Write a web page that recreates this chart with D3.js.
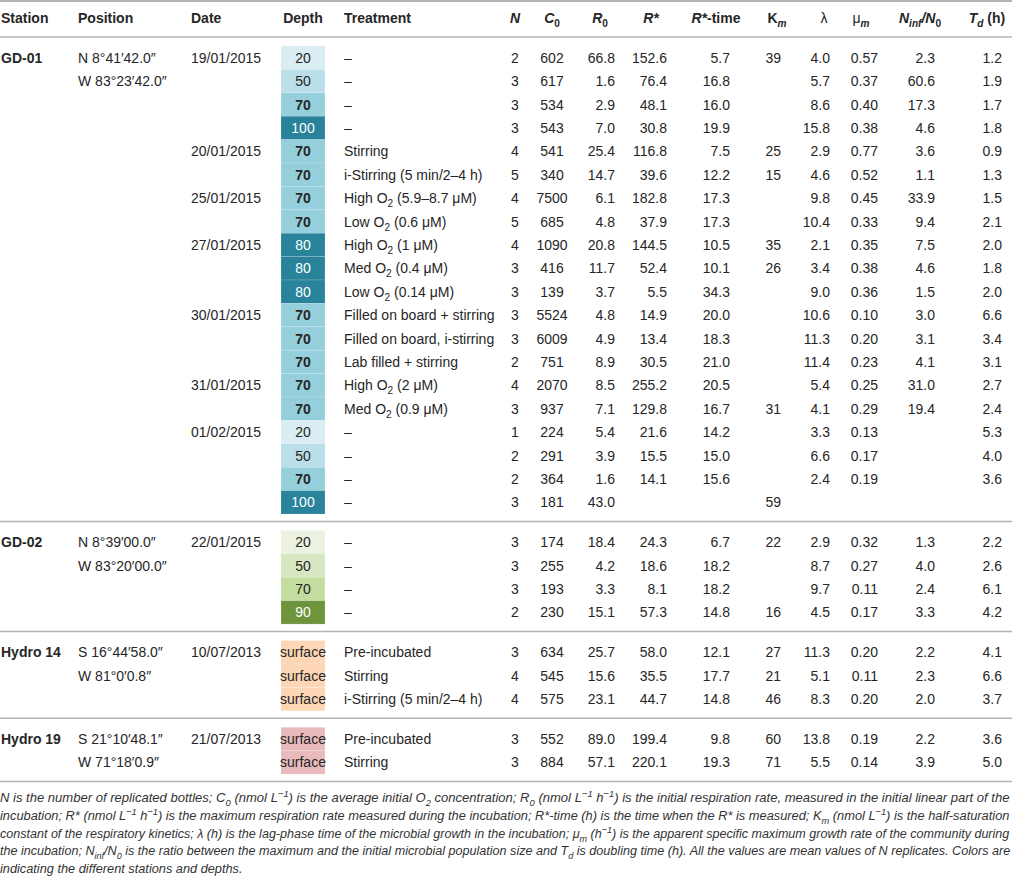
<!DOCTYPE html>
<html>
<head>
<meta charset="utf-8">
<script src="https://cdn.jsdelivr.net/npm/d3@7"></script>
<style>
  body { margin: 0; background: #fff; }
  svg { display: block; font-family: "Liberation Sans", Arial, sans-serif; }
</style>
</head>
<body>
<svg id="chart" width="1012" height="877"></svg>
<script>
// ---- data ----
const stations = ["GD-01", "GD-02", "Hydro 14", "Hydro 19"];
const stationRows = [20, 4, 3, 2];
const positions = [
  ["N 8°41′42.0″", "W 83°23′42.0″"],
  ["N 8°39′00.0″", "W 83°20′00.0″"],
  ["S 16°44′58.0″", "W 81°0′0.8″"],
  ["S 21°10′48.1″", "W 71°18′0.9″"]
];
const dates = [
  "19/01/2015", "", "", "", "20/01/2015", "", "25/01/2015", "", "27/01/2015", "", "",
  "30/01/2015", "", "", "31/01/2015", "", "01/02/2015", "", "", "",
  "22/01/2015", "", "", "",
  "10/07/2013", "", "",
  "21/07/2013", ""
];
const depths = [
  "20", "50", "70", "100", "70", "70", "70", "70", "80", "80", "80",
  "70", "70", "70", "70", "70", "20", "50", "70", "100",
  "20", "50", "70", "90",
  "surface", "surface", "surface",
  "surface", "surface"
];
const treatments = [
  "–", "–", "–", "–", "Stirring", "i-Stirring (5 min/2–4 h)",
  "High O2 (5.9–8.7 μM)", "Low O2 (0.6 μM)", "High O2 (1 μM)", "Med O2 (0.4 μM)",
  "Low O2 (0.14 μM)", "Filled on board + stirring", "Filled on board, i-stirring",
  "Lab filled + stirring", "High O2 (2 μM)", "Med O2 (0.9 μM)", "–", "–", "–", "–",
  "–", "–", "–", "–",
  "Pre-incubated", "Stirring", "i-Stirring (5 min/2–4 h)",
  "Pre-incubated", "Stirring"
];
const nRep = [2, 3, 3, 3, 4, 5, 4, 5, 4, 3, 3, 3, 3, 2, 4, 3, 1, 2, 2, 3, 3, 3, 3, 2, 3, 4, 4, 3, 3];
const c0 = [602, 617, 534, 543, 541, 340, 7500, 685, 1090, 416, 139, 5524, 6009, 751, 2070, 937,
  224, 291, 364, 181, 174, 255, 193, 230, 634, 545, 575, 552, 884];
const r0 = [66.8, 1.6, 2.9, 7.0, 25.4, 14.7, 6.1, 4.8, 20.8, 11.7, 3.7, 4.8, 4.9, 8.9, 8.5, 7.1,
  5.4, 3.9, 1.6, 43.0, 18.4, 4.2, 3.3, 15.1, 25.7, 15.6, 23.1, 89.0, 57.1];
const rStar = [152.6, 76.4, 48.1, 30.8, 116.8, 39.6, 182.8, 37.9, 144.5, 52.4, 5.5, 14.9, 13.4,
  30.5, 255.2, 129.8, 21.6, 15.5, 14.1, null, 24.3, 18.6, 8.1, 57.3, 58.0, 35.5, 44.7, 199.4, 220.1];
const rStarTime = [5.7, 16.8, 16.0, 19.9, 7.5, 12.2, 17.3, 17.3, 10.5, 10.1, 34.3, 20.0, 18.3,
  21.0, 20.5, 16.7, 14.2, 15.0, 15.6, null, 6.7, 18.2, 18.2, 14.8, 12.1, 17.7, 14.8, 9.8, 19.3];
const km = [39, null, null, null, 25, 15, null, null, 35, 26, null, null, null, null, null, 31,
  null, null, null, 59, 22, null, null, 16, 27, 21, 46, 60, 71];
const lambda = [4.0, 5.7, 8.6, 15.8, 2.9, 4.6, 9.8, 10.4, 2.1, 3.4, 9.0, 10.6, 11.3, 11.4, 5.4,
  4.1, 3.3, 6.6, 2.4, null, 2.9, 8.7, 9.7, 4.5, 11.3, 5.1, 8.3, 13.8, 5.5];
const muM = [0.57, 0.37, 0.40, 0.38, 0.77, 0.52, 0.45, 0.33, 0.35, 0.38, 0.36, 0.10, 0.20, 0.23,
  0.25, 0.29, 0.13, 0.17, 0.19, null, 0.32, 0.27, 0.11, 0.17, 0.20, 0.11, 0.20, 0.19, 0.14];
const nInfN0 = [2.3, 60.6, 17.3, 4.6, 3.6, 1.1, 33.9, 9.4, 7.5, 4.6, 1.5, 3.0, 3.1, 4.1, 31.0,
  19.4, null, null, null, null, 1.3, 4.0, 2.4, 3.3, 2.2, 2.3, 2.0, 2.2, 3.9];
const tD = [1.2, 1.9, 1.7, 1.8, 0.9, 1.3, 1.5, 2.1, 2.0, 1.8, 2.0, 6.6, 3.4, 3.1, 2.7, 2.4, 5.3,
  4.0, 3.6, null, 2.2, 2.6, 6.1, 4.2, 4.1, 6.6, 3.7, 3.6, 5.0];

const footnote = [
  [["N is the number of replicated bottles; C"], ["0", "sub"], [" (nmol L"], ["−1", "sup"],
   [") is the average initial O"], ["2", "sub"], [" concentration; R"], ["0", "sub"], [" (nmol L"],
   ["−1", "sup"], [" h"], ["−1", "sup"], [") is the initial respiration rate, measured in the initial linear part of the"]],
  [["incubation; R* (nmol L"], ["−1", "sup"], [" h"], ["−1", "sup"],
   [") is the maximum respiration rate measured during the incubation; R*-time (h) is the time when the R* is measured; K"],
   ["m", "sub"], [" (nmol L"], ["−1", "sup"], [") is the half-saturation"]],
  [["constant of the respiratory kinetics; λ (h) is the lag-phase time of the microbial growth in the incubation; μ"],
   ["m", "sub"], [" (h"], ["−1", "sup"], [") is the apparent specific maximum growth rate of the community during"]],
  [["the incubation; N"], ["inf", "sub"], ["/N"], ["0", "sub"],
   [" is the ratio between the maximum and the initial microbial population size and T"], ["d", "sub"],
   [" is doubling time (h). All the values are mean values of N replicates. Colors are"]],
  [["indicating the different stations and depths."]]
];

// ---- layout ----
const W = 1012;
const ROW_H = 23.4;
const PAD_TOP = 9;
const PAD_BOTTOM = 7.5;
const HEADER_LINE = 37;
const TEXT_COLOR = "#262626";
const RULE_COLOR = "#b4b4b4";

const depthColor = d3.scaleOrdinal()
  .domain(["GD-01|20", "GD-01|50", "GD-01|70", "GD-01|80", "GD-01|100",
           "GD-02|20", "GD-02|50", "GD-02|70", "GD-02|90",
           "Hydro 14|surface", "Hydro 19|surface"])
  .range(["#d9edf3", "#badfe8", "#96cfdc", "#29839a", "#29839a",
          "#ebf2df", "#d7e7c2", "#c3dc9f", "#6f953c",
          "#fdd6b6", "#e8babc"]);

// numeric columns: header segments, value x, anchor, header centre, format
const numCols = [
  { vals: nRep, x: 515, anchor: "middle", hx: 515, fmt: d3.format("d"), head: [["N", "i"]] },
  { vals: c0, x: 552, anchor: "middle", hx: 552, fmt: d3.format("d"), head: [["C", "i"], ["0", "sub"]] },
  { vals: r0, x: 615, anchor: "end", hx: 600, fmt: d3.format(".1f"), head: [["R", "i"], ["0", "sub"]] },
  { vals: rStar, x: 667, anchor: "end", hx: 651, fmt: d3.format(".1f"), head: [["R*", "i"]] },
  { vals: rStarTime, x: 730, anchor: "end", hx: 716, fmt: d3.format(".1f"), head: [["R*", "i"], ["-time"]] },
  { vals: km, x: 781, anchor: "end", hx: 777, fmt: d3.format("d"), head: [["K"], ["m", "subi"]] },
  { vals: lambda, x: 830, anchor: "end", hx: 824, fmt: d3.format(".1f"), head: [["λ", "n"]] },
  { vals: muM, x: 878, anchor: "end", hx: 861, fmt: d3.format(".2f"), head: [["μ", "n"], ["m", "subi"]] },
  { vals: nInfN0, x: 935, anchor: "end", hx: 920, fmt: d3.format(".1f"),
    head: [["N", "i"], ["inf", "subi"], ["/N", "i"], ["0", "sub"]] },
  { vals: tD, x: 1002, anchor: "end", hx: 987, fmt: d3.format(".1f"), head: [["T", "i"], ["d", "subi"], [" (h)"]] }
];

const textCols = [
  { head: "Station", x: 1 },
  { head: "Position", x: 78 },
  { head: "Date", x: 191 },
  { head: "Depth", x: 303, anchor: "middle" },
  { head: "Treatment", x: 344 }
];
const DEPTH_X = 281, DEPTH_W = 44;

// write styled segments into a text element
function rich(text, segs) {
  let shift = 0;
  segs.forEach(([t, style]) => {
    style = style || "";
    const target = style.startsWith("sub") ? 4 : style === "sup" ? -5 : 0;
    const ts = text.append("tspan").text(t).attr("dy", target - shift);
    shift = target;
    if (target !== 0) ts.attr("font-size", "0.72em");
    if (style === "i" || style === "subi") ts.attr("font-style", "italic");
    if (style === "n") ts.attr("font-weight", "normal");
  });
}

function treatmentSegs(t) {
  const parts = t.split("O2");
  const segs = [];
  parts.forEach((p, i) => {
    if (i > 0) { segs.push(["O"]); segs.push(["2", "sub"]); }
    if (p) segs.push([p]);
  });
  return segs;
}

const svg = d3.select("#chart");

// rows positions per station group
const rowY = d3.scaleLinear().domain([0, 1]).range([0, ROW_H]);
const groups = [];
let sepY = HEADER_LINE, rowIndex = 0;
stations.forEach((s, g) => {
  const top = sepY + PAD_TOP;
  groups.push({ station: s, top: top, first: rowIndex, n: stationRows[g] });
  rowIndex += stationRows[g];
  sepY = top + rowY(stationRows[g]) + PAD_BOTTOM;
  groups[g].bottomLine = sepY;
});

const rows = [];
groups.forEach((g, gi) => {
  for (let k = 0; k < g.n; k++) {
    rows.push({ i: g.first + k, g: gi, station: g.station, top: g.top + rowY(k) });
  }
});

// rules
const rules = [{ y: 1, w: 2 }, { y: HEADER_LINE, w: 1.5 }]
  .concat(groups.map(g => ({ y: g.bottomLine, w: 1.5 })));
svg.selectAll("line.rule").data(rules).join("line")
  .attr("class", "rule")
  .attr("x1", 0).attr("x2", W)
  .attr("y1", d => d.y).attr("y2", d => d.y)
  .attr("stroke", RULE_COLOR).attr("stroke-width", d => d.w);

// header
const head = svg.append("g").attr("font-size", 14).attr("font-weight", "bold").attr("fill", TEXT_COLOR);
textCols.forEach(c => {
  head.append("text").attr("x", c.x).attr("y", 23).attr("text-anchor", c.anchor || "start").text(c.head);
});
numCols.forEach(c => {
  const t = head.append("text").attr("x", c.hx).attr("y", 23).attr("text-anchor", "middle");
  rich(t, c.head);
});

// depth cells
const body = svg.append("g").attr("font-size", 14).attr("fill", TEXT_COLOR);
const cells = body.selectAll("g.cell").data(rows).join("g").attr("class", "cell");
cells.append("rect")
  .attr("x", DEPTH_X).attr("width", DEPTH_W)
  .attr("y", d => d.top).attr("height", ROW_H)
  .attr("fill", d => depthColor(d.station + "|" + depths[d.i]))
  .attr("stroke", "rgba(255,255,255,0.25)").attr("stroke-width", 0.6);
cells.append("text")
  .attr("x", DEPTH_X + DEPTH_W / 2).attr("y", d => d.top + ROW_H / 2 + 5)
  .attr("text-anchor", "middle")
  .attr("font-weight", d => d.station === "GD-01" && depths[d.i] === "70" ? "bold" : null)
  .attr("fill", d => d3.hsl(depthColor(d.station + "|" + depths[d.i])).l < 0.45 ? "#fff" : TEXT_COLOR)
  .text(d => depths[d.i]);

// station and position labels
groups.forEach((g, gi) => {
  const base = g.top + ROW_H / 2 + 5;
  body.append("text").attr("x", 1).attr("y", base).attr("font-weight", "bold").text(g.station);
  positions[gi].forEach((p, k) => {
    body.append("text").attr("x", 78).attr("y", base + rowY(k)).text(p);
  });
});

// dates and treatments
rows.forEach(r => {
  const base = r.top + ROW_H / 2 + 5;
  if (dates[r.i]) body.append("text").attr("x", 191).attr("y", base).text(dates[r.i]);
  rich(body.append("text").attr("x", 344).attr("y", base), treatmentSegs(treatments[r.i]));
});

// numeric values
numCols.forEach(c => {
  body.append("g").selectAll("text").data(rows.filter(r => c.vals[r.i] != null)).join("text")
    .attr("x", c.x).attr("y", r => r.top + ROW_H / 2 + 5)
    .attr("text-anchor", c.anchor)
    .text(r => c.fmt(c.vals[r.i]));
});

// footnote, each line squeezed to the column width like the original typesetting
const foot = svg.append("g")
  .attr("font-size", 13.5).attr("font-style", "italic").attr("fill", "#333");
const footY = d3.scaleLinear().domain([0, 1]).range([802, 819.8]);
const scales = [];
footnote.forEach((segs, k) => {
  const t = foot.append("text").attr("x", 0).attr("y", 0);
  rich(t, segs);
  const natural = t.node().getComputedTextLength();
  let sx;
  if (k < footnote.length - 1) { sx = (W - 1) / natural; scales.push(sx); }
  else sx = d3.mean(scales);
  t.attr("transform", `translate(0,${footY(k)}) scale(${sx},1)`);
});
</script>
</body>
</html>
